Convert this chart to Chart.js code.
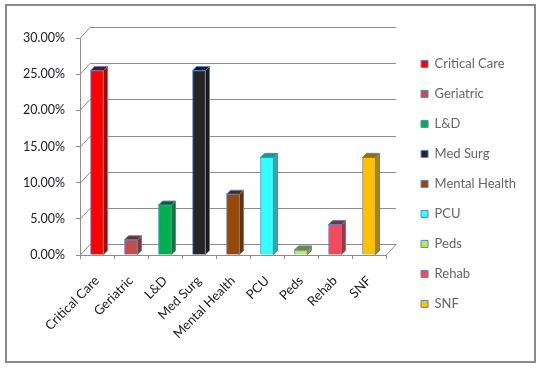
<!DOCTYPE html>
<html lang="en">
<head>
  <meta charset="UTF-8">
  <title>Units</title>
  <script src="https://cdn.jsdelivr.net/npm/chart.js"></script>
  <style>
    body { margin: 0; background: #fff; }
    .chart-container { position: relative; width: 540px; height: 368px; }
  </style>
</head>
<body>
  <div class="chart-container">
    <canvas id="grafico"></canvas>
  </div>

  <script>
    const unidades = ['Critical Care', 'Geriatric', 'L&D', 'Med Surg', 'Mental Health', 'PCU', 'Peds', 'Rehab', 'SNF'];
    const porcentajes = [25.5, 2.1, 6.9, 25.5, 8.4, 13.5, 0.7, 4.2, 13.5];
    const ticksY = [0, 5, 10, 15, 20, 25, 30];
    const colores = ['#ff0000', '#c0504d', '#00b050', '#262626', '#984807', '#33ffff', '#c3e85a', '#f24a5a', '#ffc000'];

    const bordeBarra = '#5b84bf';
    const gris = '#8e8e8e';
    const prof = { dx: 10, dy: -11 };   // profundidad de la pared
    const profBarra = 4;                 // profundidad de cada barra

    function sombra(hex, f) {
      const n = parseInt(hex.slice(1), 16);
      const r = Math.round(((n >> 16) & 255) * f);
      const g = Math.round(((n >> 8) & 255) * f);
      const b = Math.round((n & 255) * f);
      return `rgb(${r},${g},${b})`;
    }

    // marco exterior + pared trasera en 3D
    const fondo3d = {
      id: 'fondo3d',
      beforeDraw(chart) {
        const ctx = chart.ctx;
        ctx.save();
        ctx.strokeStyle = '#8a8a8a';
        ctx.lineWidth = 2;
        ctx.strokeRect(6, 5, 529, 357);
        ctx.restore();
      },
      beforeDatasetsDraw(chart) {
        const ctx = chart.ctx;
        const { left, right, bottom } = chart.chartArea;
        const y = chart.scales.y;
        ctx.save();
        ctx.strokeStyle = gris;
        ctx.lineWidth = 1;
        y.ticks.forEach(t => {
          const py = Math.round(y.getPixelForValue(t.value)) + 0.5;
          ctx.beginPath();
          ctx.moveTo(left, py);
          ctx.lineTo(left + prof.dx, py + prof.dy);
          ctx.lineTo(right + prof.dx, py + prof.dy);
          ctx.stroke();
        });
        const pb = Math.round(bottom) + 0.5;
        ctx.beginPath();
        ctx.moveTo(right, pb);
        ctx.lineTo(right + prof.dx, pb + prof.dy);
        ctx.stroke();
        ctx.restore();
      },
      afterDatasetsDraw(chart) {
        const ctx = chart.ctx;
        const meta = chart.getDatasetMeta(0);
        const d = profBarra;
        ctx.save();
        ctx.lineWidth = 1;
        ctx.strokeStyle = bordeBarra;
        meta.data.forEach((bar, i) => {
          const { x, y, base, width } = bar.getProps(['x', 'y', 'base', 'width'], true);
          const l = x - width / 2, r = x + width / 2;
          // lado
          ctx.fillStyle = sombra(colores[i], 0.68);
          ctx.beginPath();
          ctx.moveTo(r, y);
          ctx.lineTo(r + d, y - d);
          ctx.lineTo(r + d, base - d);
          ctx.lineTo(r, base);
          ctx.closePath();
          ctx.fill();
          ctx.stroke();
          // tapa
          ctx.fillStyle = sombra(colores[i], 0.58);
          ctx.beginPath();
          ctx.moveTo(l, y);
          ctx.lineTo(l + d, y - d);
          ctx.lineTo(r + d, y - d);
          ctx.lineTo(r, y);
          ctx.closePath();
          ctx.fill();
          ctx.stroke();
        });
        ctx.restore();
      }
    };

    const fuente = { family: 'Lato', size: 13 };

    new Chart(document.getElementById('grafico'), {
      type: 'bar',
      data: {
        labels: unidades,
        datasets: [{
          data: porcentajes,
          backgroundColor: colores,
          borderColor: bordeBarra,
          borderWidth: 1,
          barThickness: 13
        }]
      },
      options: {
        responsive: true,
        maintainAspectRatio: false,
        animation: false,
        layout: { padding: { left: 8, top: 38, right: 14, bottom: 12 } },
        plugins: {
          tooltip: { enabled: false },
          legend: {
            position: 'right',
            align: 'start',
            maxWidth: 200,
            title: { display: true, text: '', padding: 0, font: { size: 2 } },
            labels: {
              boxWidth: 7,
              boxHeight: 7,
              padding: 17,
              color: '#202020',
              font: fuente,
              generateLabels: () => unidades.map((u, i) => ({
                text: u,
                fillStyle: colores[i],
                strokeStyle: bordeBarra,
                lineWidth: 1,
                index: i
              }))
            }
          }
        },
        scales: {
          x: {
            grid: { display: true, drawOnChartArea: false, drawTicks: true, tickLength: 4, color: gris, offset: true },
            border: { display: true, color: gris },
            ticks: { color: '#202020', font: fuente, minRotation: 45, maxRotation: 45, padding: 14 },
            afterFit: s => { s.height = 101; }
          },
          y: {
            min: 0,
            max: 30,
            afterBuildTicks: s => { s.ticks = ticksY.map(v => ({ value: v })); },
            grid: { display: true, drawOnChartArea: false, drawTicks: true, tickLength: 4, color: gris },
            border: { display: true, color: gris },
            ticks: { color: '#202030', font: { family: 'Lato', size: 12.5 }, padding: 11, callback: v => v.toFixed(2) + '%' },
            afterFit: s => { s.width = 72; }
          },
          relleno: {
            type: 'linear',
            position: 'right',
            display: true,
            grid: { display: false },
            border: { display: false },
            ticks: { display: false },
            afterFit: s => { s.width = 18; }
          }
        }
      },
      plugins: [fondo3d]
    });
  </script>
</body>
</html>
